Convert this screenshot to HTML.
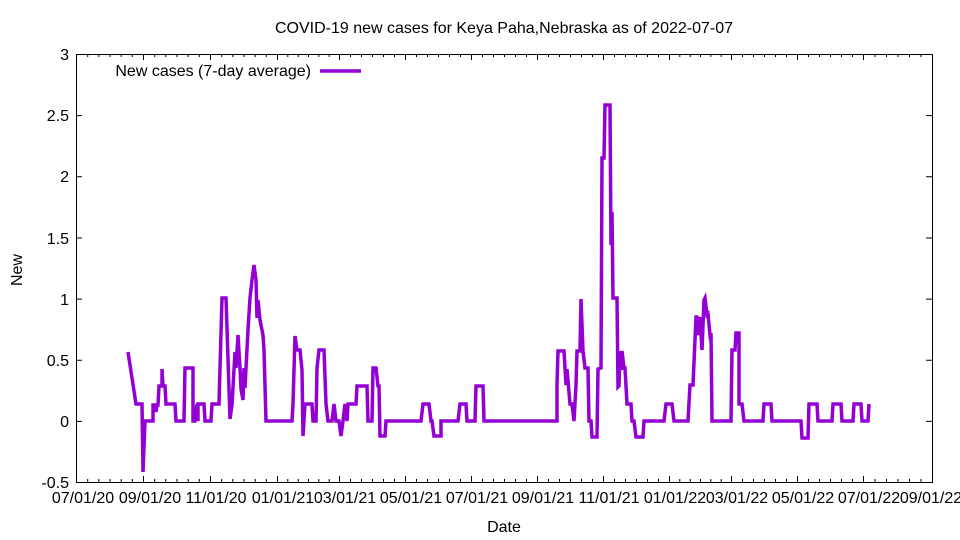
<!DOCTYPE html>
<html><head><meta charset="utf-8"><style>body{margin:0;background:#fff}svg{display:block}text{font-family:"Liberation Sans",sans-serif;font-size:16px;fill:#000}</style></head><body>
<svg width="960" height="540" xmlns="http://www.w3.org/2000/svg">
<rect width="960" height="540" fill="#fff"/>
<text x="504" y="33" text-anchor="middle">COVID-19 new cases for Keya Paha,Nebraska as of 2022-07-07</text>
<g stroke="#000" stroke-width="1" fill="none">
<rect x="76.5" y="54.5" width="856" height="428"/>
<path d="M76 54.5h6M932 54.5h-6M76 115.6h6M932 115.6h-6M76 176.8h6M932 176.8h-6M76 238h6M932 238h-6M76 299.1h6M932 299.1h-6M76 360.3h6M932 360.3h-6M76 421.4h6M932 421.4h-6"/>
<path d="M76.5 482v-6M76.5 54v6M143.5 482v-6M143.5 54v6M210.5 482v-6M210.5 54v6M277.5 482v-6M277.5 54v6M339.5 482v-6M339.5 54v6M405.5 482v-6M405.5 54v6M471.5 482v-6M471.5 54v6M537.5 482v-6M537.5 54v6M603.5 482v-6M603.5 54v6M669.5 482v-6M669.5 54v6M731.5 482v-6M731.5 54v6M797.5 482v-6M797.5 54v6M863.5 482v-6M863.5 54v6"/>
<path d="M87.7 482v-3M98.8 482v-3M110 482v-3M121.2 482v-3M132.3 482v-3M154.7 482v-3M165.8 482v-3M177 482v-3M188.2 482v-3M199.3 482v-3M221.7 482v-3M232.8 482v-3M244 482v-3M255.2 482v-3M266.3 482v-3M287.8 482v-3M298.2 482v-3M308.5 482v-3M318.8 482v-3M329.2 482v-3M350.5 482v-3M361.5 482v-3M372.5 482v-3M383.5 482v-3M394.5 482v-3M416.5 482v-3M427.5 482v-3M438.5 482v-3M449.5 482v-3M460.5 482v-3M482.5 482v-3M493.5 482v-3M504.5 482v-3M515.5 482v-3M526.5 482v-3M548.5 482v-3M559.5 482v-3M570.5 482v-3M581.5 482v-3M592.5 482v-3M614.5 482v-3M625.5 482v-3M636.5 482v-3M647.5 482v-3M658.5 482v-3M679.8 482v-3M690.2 482v-3M700.5 482v-3M710.8 482v-3M721.2 482v-3M742.5 482v-3M753.5 482v-3M764.5 482v-3M775.5 482v-3M786.5 482v-3M808.5 482v-3M819.5 482v-3M830.5 482v-3M841.5 482v-3M852.5 482v-3M875 482v-3M886.5 482v-3M898 482v-3M909.5 482v-3M921 482v-3"/>
<path d="M87.7 54v3M98.8 54v3M110 54v3M121.2 54v3M132.3 54v3M154.7 54v3M165.8 54v3M177 54v3M188.2 54v3M199.3 54v3M221.7 54v3M232.8 54v3M244 54v3M255.2 54v3M266.3 54v3M287.8 54v3M298.2 54v3M308.5 54v3M318.8 54v3M329.2 54v3M350.5 54v3M361.5 54v3M372.5 54v3M383.5 54v3M394.5 54v3M416.5 54v3M427.5 54v3M438.5 54v3M449.5 54v3M460.5 54v3M482.5 54v3M493.5 54v3M504.5 54v3M515.5 54v3M526.5 54v3M548.5 54v3M559.5 54v3M570.5 54v3M581.5 54v3M592.5 54v3M614.5 54v3M625.5 54v3M636.5 54v3M647.5 54v3M658.5 54v3M679.8 54v3M690.2 54v3M700.5 54v3M710.8 54v3M721.2 54v3M742.5 54v3M753.5 54v3M764.5 54v3M775.5 54v3M786.5 54v3M808.5 54v3M819.5 54v3M830.5 54v3M841.5 54v3M852.5 54v3M875 54v3M886.5 54v3M898 54v3M909.5 54v3M921 54v3"/>
</g>
<g text-anchor="end">
<text x="69" y="60">3</text><text x="69" y="121">2.5</text><text x="69" y="182">2</text><text x="69" y="244">1.5</text><text x="69" y="305">1</text><text x="69" y="366">0.5</text><text x="69" y="427">0</text><text x="69" y="488">-0.5</text>
</g>
<g text-anchor="middle">
<text x="83" y="503">07/01/20</text><text x="150" y="503">09/01/20</text><text x="216" y="503">11/01/20</text><text x="283" y="503">01/01/21</text><text x="345" y="503">03/01/21</text><text x="411" y="503">05/01/21</text><text x="477" y="503">07/01/21</text><text x="543" y="503">09/01/21</text><text x="609" y="503">11/01/21</text><text x="675" y="503">01/01/22</text><text x="737" y="503">03/01/22</text><text x="803" y="503">05/01/22</text><text x="869" y="503">07/01/22</text><text x="931" y="503">09/01/22</text>
</g>
<text x="504" y="532" text-anchor="middle">Date</text>
<text x="22" y="270" text-anchor="middle" transform="rotate(-90 22 270)">New</text>
<text x="311" y="76" text-anchor="end">New cases (7-day average)</text>
<line x1="320" y1="71" x2="361" y2="71" stroke="#9400d3" stroke-width="3.5"/>
<polyline fill="none" stroke="#9400d3" stroke-width="3.5" stroke-linejoin="miter" points="128,352 136,404 142,404 143,472 145,421 153,421 153,405 155,405 156,412 157,405 158,405 159,386 162,386 162,369 163,386 165,386 166,404 175,404 176,421 184,421 185,368 193,368 193,421 195,421 197,404 198,421 198,404 204,404 205,421 211,421 212,404 219,404 220,368 222,298 226,298 230,419 232,405 235,352 236,368 238,335 239,352 240,368 241,389 243,400 244,368 245,388 246,368 248,330 250,298 252,280 254,265 256,280 257,318 258,300 260,320 263,335 264,350 266,421 292,421 293,404 295,336 297,350 300,350 302,370 303,436 305,404 312,404 313,421 316,421 317,368 319,350 324,350 326,404 328,421 332,421 334,404 336,421 339,421 341,436 343,421 345,404 347,421 348,404 356,404 357,386 367,386 368,421 372,421 373,368 376,368 378,386 379,386 380,436 385,436 386,421 421,421 423,404 429,404 431,421 432,421 434,436 441,436 441,421 458,421 460,404 466,404 467,421 475,421 476,386 483,386 484,421 557,421 557,385 558,351 564,351 566,385 567,369 570,404 572,404 574,421 576,385 577,351 580,351 581,299 583,351 585,368 588,368 589,421 591,421 592,437 597,437 598,369 601,368 602,158 604,158 605,105 610,105 611,245 612,212 613,298 617,298 618,387 619,386 620,351 621,370 622,351 624,368 625,368 627,404 631,404 632,421 634,421 636,437 643,437 644,421 664,421 666,404 672,404 674,421 688,421 690,385 693,385 696,317 697,317 698,335 700,317 702,350 704,300 705,298 707,315 708,314 710,335 711,333 712,421 731,421 732,350 735,350 736,333 739,333 739,404 742,404 744,421 763,421 764,404 771,404 772,421 801,421 802,438 808,438 809,404 817,404 818,421 832,421 833,404 841,404 842,421 853,421 854,404 861,404 862,421 868,421 869,404"/>
</svg>
</body></html>
